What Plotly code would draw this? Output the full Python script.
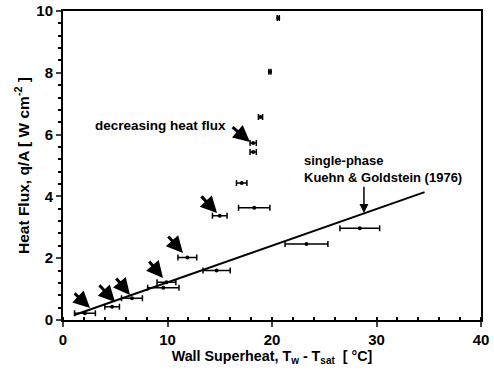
import plotly.graph_objects as go

# Measured data (wall superheat in °C, heat flux in W/cm^2)
superheat = [2.1, 4.7, 6.6, 9.6, 9.9, 11.9, 14.7, 15.0, 17.1, 18.2, 18.2, 18.3, 18.9, 19.8, 20.6, 23.3, 28.4]
heat_flux = [0.22, 0.43, 0.70, 1.04, 1.22, 2.02, 1.60, 3.37, 4.43, 5.73, 5.44, 3.63, 6.57, 8.03, 9.77, 2.46, 2.97]
superheat_err = [1.0, 0.7, 1.0, 1.5, 0.9, 0.9, 1.3, 0.7, 0.5, 0.3, 0.3, 1.5, 0.2, 0.1, 0.1, 2.05, 1.9]

# Kuehn & Goldstein (1976) single-phase correlation line
kg_x = [1.1, 34.6]
kg_y = [0.16, 4.14]

x_ticks = [0, 10, 20, 30, 40]
y_ticks = [0, 2, 4, 6, 8, 10]

FONT = "Liberation Sans"

fig = go.Figure()
fig.add_trace(go.Scatter(x=kg_x, y=kg_y, mode="lines",
                         line=dict(color="black", width=2), showlegend=False))
fig.add_trace(go.Scatter(
    x=superheat, y=heat_flux, mode="markers",
    marker=dict(color="black", size=4),
    error_x=dict(type="data", array=superheat_err, color="black", thickness=1.5, width=3),
    showlegend=False))

# arrows (tail -> head, data coords)
arrows = [
    ((0.96, 0.91), (2.58, 0.39)),
    ((3.35, 1.17), (4.98, 0.58)),
    ((4.98, 1.39), (6.41, 0.81)),
    ((8.13, 1.94), (9.57, 1.36)),
    ((9.95, 2.75), (11.48, 2.17)),
    ((13.11, 4.05), (14.74, 3.46)),
    ((16.08, 6.28), (17.89, 5.76)),
]
for (tx, ty), (hx, hy) in arrows:
    fig.add_annotation(x=hx, y=hy, ax=tx, ay=ty, xref="x", yref="y", axref="x", ayref="y",
                       showarrow=True, arrowhead=2, arrowsize=1.1, arrowwidth=3, arrowcolor="black",
                       text="")
fig.add_annotation(x=28.8, y=3.46, ax=28.8, ay=4.36, xref="x", yref="y", axref="x", ayref="y",
                   showarrow=True, arrowhead=2, arrowsize=1.2, arrowwidth=1.5, arrowcolor="black", text="")

fig.add_annotation(x=15.75, y=6.30, xref="x", yref="y", text="decreasing heat flux", showarrow=False,
                   xanchor="right", yanchor="middle", font=dict(family=FONT, size=13.5, color="black", weight="bold"))
fig.add_annotation(x=22.9, y=4.9, xref="x", yref="y", text="single-phase<br>Kuehn &amp; Goldstein (1976)",
                   showarrow=False, xanchor="left", yanchor="middle", align="left",
                   font=dict(family=FONT, size=13, color="black", weight="bold"))

fig.update_xaxes(range=[0, 40], tickvals=x_ticks, ticks="outside", ticklen=5, tickwidth=1.5,
                 showline=True, linewidth=2, linecolor="black", mirror=True, showgrid=False, zeroline=False,
                 automargin=False,
                 minor=dict(dtick=2, ticks="inside", ticklen=3, tickcolor="black", showgrid=False),
                 tickfont=dict(family=FONT, size=15, color="black", weight="bold"),
                 title=dict(text="Wall Superheat, T<sub>w</sub> - T<sub>sat</sub>  [ °C]", standoff=2,
                            font=dict(family=FONT, size=14.3, color="black", weight="bold")))
fig.update_yaxes(range=[0, 10], tickvals=y_ticks, ticks="outside", ticklen=5, tickwidth=1.5,
                 showline=True, linewidth=2, linecolor="black", mirror=True, showgrid=False, zeroline=False,
                 automargin=False,
                 minor=dict(dtick=0.4, ticks="outside", ticklen=3, tickcolor="black", showgrid=False),
                 tickfont=dict(family=FONT, size=15, color="black", weight="bold"),
                 title=dict(text="Heat Flux, q/A [ W cm<sup>-2</sup> ]", standoff=3,
                            font=dict(family=FONT, size=15.5, color="black", weight="bold")))

fig.update_layout(width=494, height=373, margin=dict(l=63, r=13, t=11, b=53),
                  plot_bgcolor="white", paper_bgcolor="white")

fig.write_html("out.html", config={"displayModeBar": False},
               post_script="document.body.style.margin='0';")
